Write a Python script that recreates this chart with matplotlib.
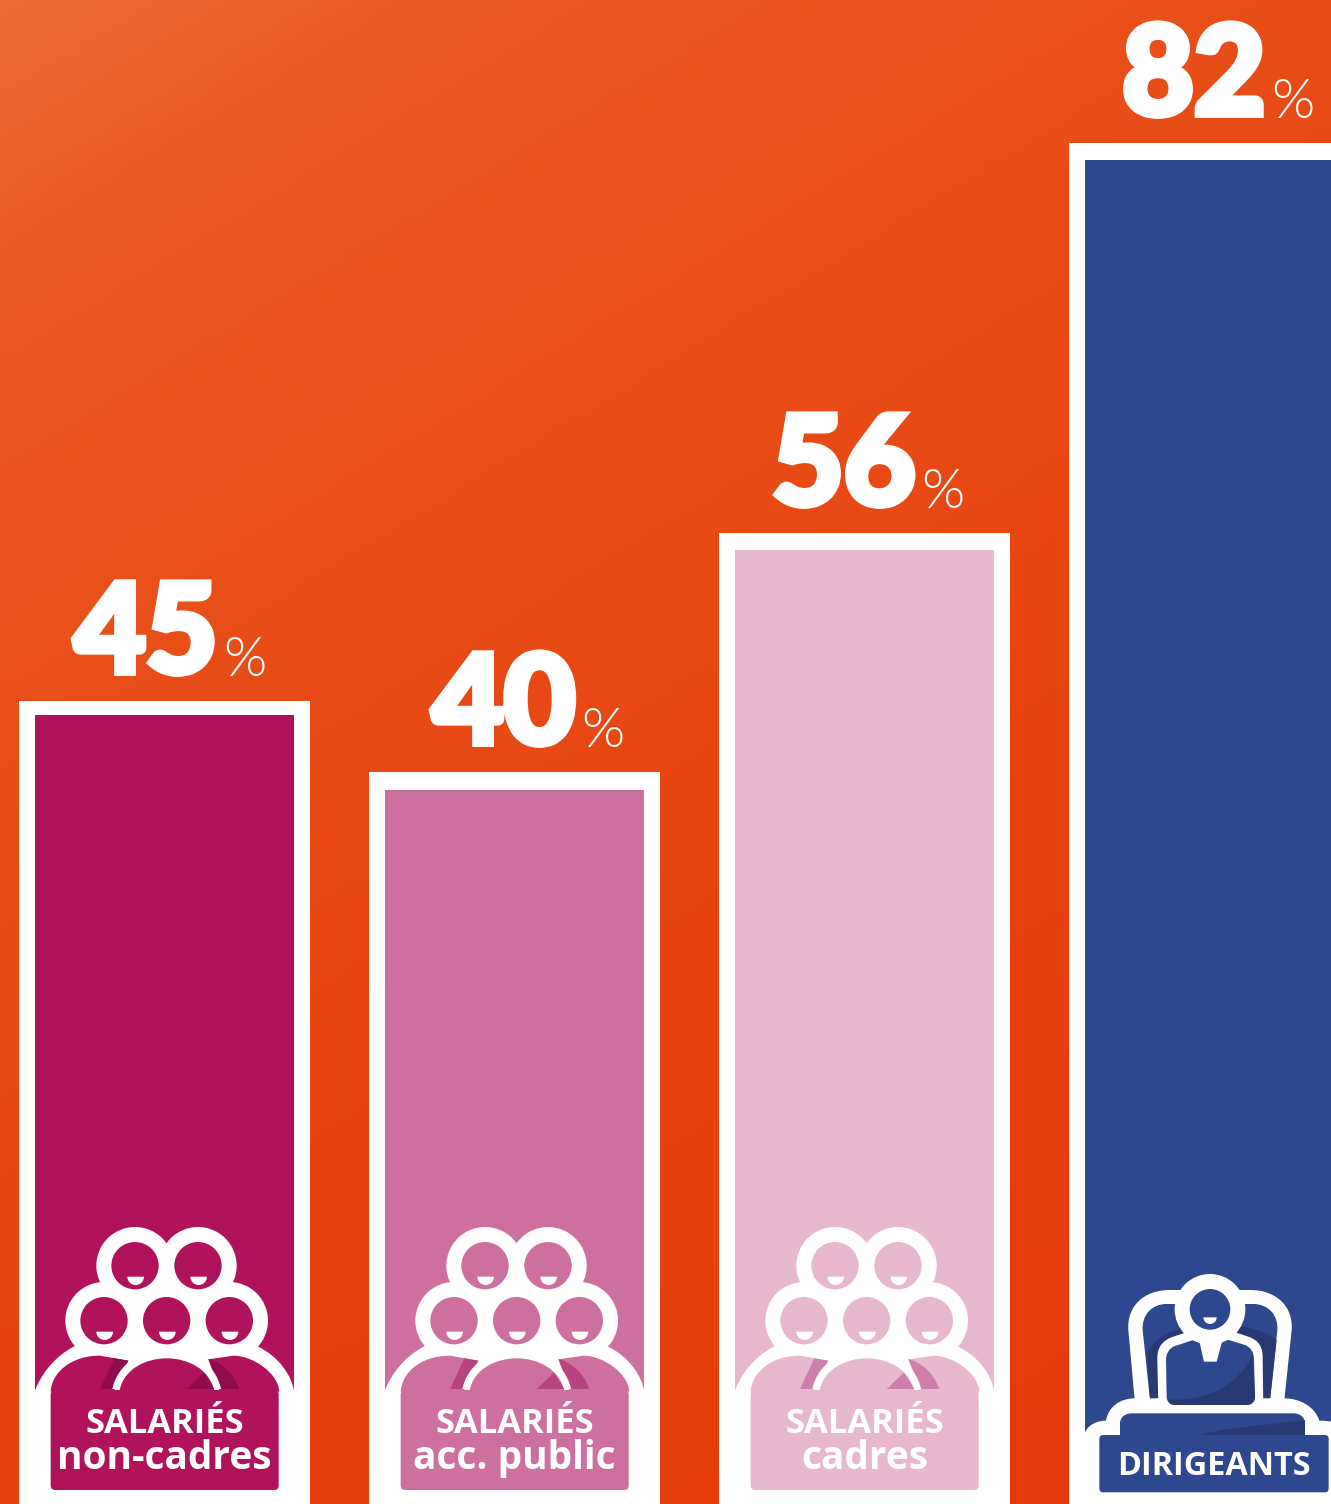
import numpy as np
from matplotlib import pyplot as plt
from matplotlib import patheffects as pe
from matplotlib.colors import LinearSegmentedColormap
from matplotlib.patches import Circle, FancyBboxPatch, PathPatch, Polygon, Rectangle, Wedge
from matplotlib.path import Path
from matplotlib.transforms import Affine2D

# data
values = [45, 40, 56, 82]
line1 = ["SALARIÉS", "SALARIÉS", "SALARIÉS", "DIRIGEANTS"]
line2 = ["non-cadres", "acc. public", "cadres", ""]
colors = ["#B0135B", "#CE709F", "#E8B8CE", "#2E4890"]
darks = ["#900C4E", "#B8447F", "#CF7FAB", "#283A73"]
frame_pad = [14, 18, 17, 17]   # white frame above the bar, px
digit_right = [56, 64, 54, 54]  # end of the digits from bar centre, px

W, H = 1331, 1504
PX = 15.0     # px per percent
ZERO = 1390   # y pixel of 0 %
STEP = 350.0
X0 = 164.5

fig = plt.figure(figsize=(W / 100, H / 100), dpi=100)
ax = fig.add_axes([0, 0, 1, 1])
ymin, ymax = (ZERO - H) / PX, ZERO / PX
xmin, xmax = -X0 / STEP, (W - X0) / STEP

# background
xx, yy = np.meshgrid(np.linspace(0, 1, 200), np.linspace(0, 1, 200))
cmap = LinearSegmentedColormap.from_list(
    "bg", [(0, "#EC6A33"), (.1, "#EB5C25"), (.35, "#E94D17"), (.6, "#E8430F"), (1, "#E5380A")])
ax.imshow(0.35 * xx + 0.65 * yy, cmap=cmap, vmin=0, vmax=1, origin="upper", aspect="auto",
          extent=[xmin, xmax, ymin, ymax], zorder=0)

# bars
pos = np.arange(len(values))
tops = [v + p / PX for v, p in zip(values, frame_pad)]
ax.bar(pos, np.array(tops) - ymin, bottom=ymin, width=291 / STEP, color="white", zorder=1)
ax.bar(pos, values, width=259 / STEP, color=colors, zorder=2)
ax.set_xlim(xmin, xmax)
ax.set_ylim(ymin, ymax)
ax.axis("off")

# value labels
heavy = [pe.withStroke(linewidth=5, foreground="white", joinstyle="miter")]
for i, v in enumerate(values):
    ax.annotate(str(v), (pos[i], tops[i]), xytext=((digit_right[i] - 3) * 0.72, 28.5 * 0.72),
                textcoords="offset points", ha="right", va="baseline", color="white",
                family="Lato", weight=900, fontsize=89, zorder=5, path_effects=heavy)
    ax.annotate("%", (pos[i], tops[i]), xytext=((digit_right[i] + 3) * 0.72, 25 * 0.72),
                textcoords="offset points", ha="left", va="baseline", color="white",
                family="Lato", weight=300, fontsize=40, zorder=5)

# icons and captions, drawn in pixel space
deco = fig.add_axes([0, 0, 1, 1])
deco.set_xlim(0, W)
deco.set_ylim(H, 0)
deco.axis("off")
deco.patch.set_alpha(0)


def blob(start, *segs):
    # closed shape from line (1 point) and cubic (3 point) segments
    verts, codes = [start], [Path.MOVETO]
    for s in segs:
        verts += list(s)
        codes += [Path.LINETO] if len(s) == 1 else [Path.CURVE4] * 3
    verts.append(start)
    codes.append(Path.CLOSEPOLY)
    return Path(verts, codes)


def add(patch, tr, color):
    patch.set(transform=tr, facecolor=color, edgecolor="none")
    deco.add_patch(patch)


def crowd(i):
    # coordinates are in 3x crop units
    tr = Affine2D().scale(1 / 3).translate(20 + STEP * i, 1210) + deco.transData
    col, dark = colors[i], darks[i]
    add(PathPatch(blob((45, 542), [(60, 500), (100, 440), (165, 408)], [(440, 360)],
                      [(710, 408)], [(780, 440), (815, 500), (822, 542)])), tr, "white")
    heads = [(345, 167), (534, 167), (252, 332), (440, 332), (628, 332)]
    for hx, hy in heads:
        add(Circle((hx, hy), 116), tr, "white")
    for hx, hy in heads:
        add(Circle((hx, hy), 71), tr, col)
        add(Wedge((hx + 2, hy + 33), 25, 0, 180), tr, "white")
    # bodies
    add(PathPatch(blob((92, 545), [(95, 490), (150, 437), (240, 437)], [(325, 452)], [(280, 545)])), tr, col)
    add(PathPatch(blob((778, 545), [(775, 490), (700, 437), (640, 437)], [(565, 448)], [(600, 545)])), tr, col)
    add(Polygon([(240, 537), (283, 445), (325, 452), (277, 537)]), tr, dark)
    add(PathPatch(blob((658, 537), [(640, 490), (610, 460), (565, 447)], [(603, 537)])), tr, dark)
    add(PathPatch(blob((277, 537), [(295, 455), (370, 420), (440, 420)],
                      [(510, 420), (585, 455), (603, 537)])), tr, "white")
    add(PathPatch(blob((298, 545), [(310, 475), (380, 445), (440, 445)],
                      [(500, 445), (570, 475), (583, 545)])), tr, col)
    add(Polygon([(500, 537), (552, 488), (583, 537)]), tr, dark)
    add(FancyBboxPatch((103, 551), 662, 278, boxstyle="round,pad=11,rounding_size=14"), tr, col)


def boss(i):
    tr = Affine2D().scale(1 / 3).translate(1060, 1260) + deco.transData
    col, dark = colors[i], darks[i]
    # bar colour carries on behind the desk
    add(Rectangle((75, 380), 760, 145), tr, col)
    # chair
    chair = blob((225, 430), [(205, 210)], [(200, 140), (250, 90), (330, 90)], [(570, 90)],
                 [(650, 90), (700, 140), (695, 210)], [(672, 430)])
    add(PathPatch(chair), tr, "white")
    add(PathPatch(blob((272, 440), [(248, 210)], [(245, 165), (275, 132), (320, 132)], [(580, 132)],
                      [(625, 132), (655, 165), (652, 210)], [(628, 440)])), tr, col)
    add(PathPatch(blob((272, 440), [(261, 275)], [(290, 230), (340, 205), (400, 197)], [(510, 195)],
                      [(570, 200), (620, 215), (650, 240)], [(628, 440)])), tr, dark)
    # desk
    add(PathPatch(blob((73, 526), [(75, 505), (100, 482), (138, 482)], [(145, 440), (180, 415), (225, 415)],
                      [(672, 415)], [(720, 415), (765, 440), (778, 482)],
                      [(790, 482), (813, 482), (830, 490)], [(830, 526)])), tr, "white")
    # person
    add(PathPatch(blob((340, 230), [(415, 205)], [(490, 205)], [(565, 230)],
                      [(595, 240), (610, 260), (608, 300)], [(610, 440)], [(295, 440)], [(292, 300)],
                      [(290, 260), (310, 240), (340, 230)])), tr, "white")
    body = blob((345, 258), [(415, 235)], [(490, 235)], [(555, 255)], [(572, 262), (582, 275), (582, 300)],
                [(585, 410)], [(585, 425), (575, 435), (560, 435)], [(345, 435)],
                [(330, 435), (320, 425), (320, 410)], [(318, 300)], [(318, 280), (328, 264), (345, 258)])
    add(PathPatch(body), tr, col)
    add(PathPatch(blob((325, 418), [(440, 425), (540, 375), (578, 280)], [(585, 410)],
                      [(585, 425), (575, 435), (560, 435)], [(345, 435)], [(332, 435), (325, 428), (325, 418)])), tr, dark)
    add(Polygon([(415, 230), (490, 230), (470, 305), (432, 305)]), tr, "white")
    add(Circle((450, 148), 106), tr, "white")
    add(Circle((450, 148), 61), tr, col)
    add(Wedge((450, 172), 20, 0, 180), tr, "white")
    # desk top
    add(PathPatch(blob((180, 530), [(180, 490)], [(180, 472), (195, 460), (215, 460)], [(700, 460)],
                      [(720, 460), (735, 472), (735, 490)], [(735, 530)])), tr, col)
    add(Polygon([(400, 530), (480, 510), (735, 480), (735, 530)]), tr, dark)
    add(FancyBboxPatch((128, 535), 668, 152, boxstyle="round,pad=10,rounding_size=12"), tr, col)


for i in range(3):
    crowd(i)
boss(3)

for i in range(3):
    cx = X0 + STEP * i
    deco.text(cx, 1433, line1[i], ha="center", va="baseline", color="white",
              family="Open Sans", weight="bold", fontsize=24.8)
    deco.text(cx, 1469, line2[i], ha="center", va="baseline", color="white",
              family="Open Sans", weight="bold", fontsize=28)
deco.text(1214, 1475, line1[3], ha="center", va="baseline", color="white",
          family="Open Sans", weight="bold", fontsize=23.3)

fig.savefig("out.png", dpi=100)
